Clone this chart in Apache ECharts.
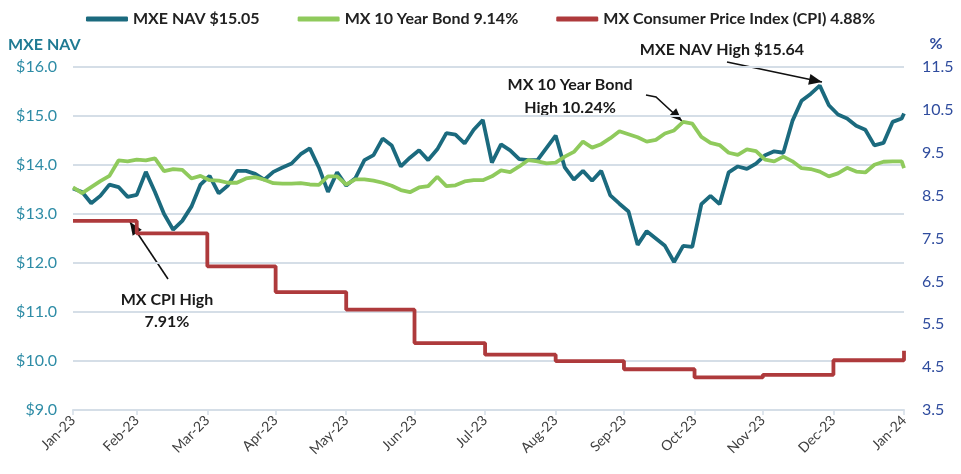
<!DOCTYPE html>
<html>
<head>
<meta charset="utf-8">
<script src="https://cdn.jsdelivr.net/npm/echarts@6/dist/echarts.min.js"></script>
<style>
  html, body { margin: 0; padding: 0; background: #fff; }
  #chart { width: 961px; height: 474px; }
</style>
</head>
<body>
<div id="chart"></div>
<script>
// x-axis tick labels, one per month end
const monthLabels = ['Jan-23', 'Feb-23', 'Mar-23', 'Apr-23', 'May-23', 'Jun-23', 'Jul-23',
  'Aug-23', 'Sep-23', 'Oct-23', 'Nov-23', 'Dec-23', 'Jan-24']

// MX CPI (%), one reading per month end
const cpiValues = [7.91, 7.62, 6.85, 6.25, 5.84, 5.06, 4.79, 4.64, 4.45, 4.26, 4.32, 4.66, 4.88]

// MXE NAV ($), sampled every 4 days from 31 Jan 2023, last point 31 Jan 2024
const navValues = [
  13.52, 13.45, 13.22, 13.37, 13.60, 13.55, 13.35, 13.39, 13.86, 13.45,
  13.00, 12.68, 12.86, 13.15, 13.60, 13.78, 13.42, 13.58, 13.88, 13.88,
  13.82, 13.70, 13.86, 13.95, 14.03, 14.22, 14.34, 13.95, 13.45, 13.85,
  13.58, 13.73, 14.10, 14.20, 14.54, 14.40, 13.97, 14.15, 14.30, 14.10,
  14.32, 14.65, 14.62, 14.44, 14.72, 14.92, 14.05, 14.42, 14.30, 14.12,
  14.10, 14.10, 14.35, 14.60, 13.95, 13.70, 13.88, 13.68, 13.88, 13.38,
  13.21, 13.05, 12.37, 12.65, 12.50, 12.35, 12.02, 12.35, 12.33, 13.20,
  13.37, 13.20, 13.85, 13.97, 13.92, 14.03, 14.20, 14.28, 14.25, 14.90,
  15.31, 15.45, 15.62, 15.22, 15.03, 14.95, 14.80, 14.72, 14.40, 14.45,
  14.88, 14.95, 15.05
]

// MX 10 year bond yield (%), same sampling
const bondValues = [
  8.69, 8.56, 8.70, 8.84, 8.96, 9.32, 9.30, 9.34, 9.32, 9.37,
  9.07, 9.12, 9.10, 8.90, 8.96, 8.86, 8.85, 8.80, 8.80, 8.90,
  8.93, 8.87, 8.79, 8.78, 8.78, 8.79, 8.76, 8.75, 8.95, 8.95,
  8.76, 8.88, 8.88, 8.85, 8.80, 8.73, 8.63, 8.58, 8.69, 8.72,
  8.94, 8.72, 8.74, 8.83, 8.86, 8.86, 8.95, 9.09, 9.05, 9.18,
  9.33, 9.30, 9.25, 9.27, 9.41, 9.52, 9.76, 9.62, 9.70, 9.84,
  10.00, 9.93, 9.86, 9.76, 9.80, 9.95, 10.02, 10.22, 10.18, 9.87,
  9.73, 9.68, 9.50, 9.45, 9.58, 9.54, 9.34, 9.30, 9.41, 9.30,
  9.14, 9.12, 9.06, 8.95, 9.02, 9.15, 9.06, 9.04, 9.22, 9.29,
  9.30, 9.30, 9.14
]

// dates as day offsets from 31 Jan 2023
const DAY = 86400000
const start = +new Date(2023, 0, 31)
const dayOf = d => Math.round((+d - start) / DAY)
const tickDays = monthLabels.map((_, k) => dayOf(new Date(2023, k + 1, 0)))
const sampleDays = navValues.map((_, i) => i === navValues.length - 1 ? tickDays[12] : 4 * i)

const TEAL = '#1B6A7E'
const GREEN = '#8FCA5C'
const RED = '#AE3A3C'
const GRID = '#D5DEE7'
const FONT = 'Lato'

function arrowHead(x1, y1, x2, y2) {
  const a = Math.atan2(y2 - y1, x2 - x1)
  const len = 13, half = 5.5
  const bx = x2 - len * Math.cos(a), by = y2 - len * Math.sin(a)
  return [[x2, y2],
    [bx + half * Math.sin(a), by - half * Math.cos(a)],
    [bx - half * Math.sin(a), by + half * Math.cos(a)]]
}

function arrow(points) {
  const n = points.length
  return [
    { type: 'polyline', shape: { points: points }, style: { stroke: '#111', lineWidth: 1.6, fill: null } },
    { type: 'polygon', shape: { points: arrowHead(points[n - 2][0], points[n - 2][1], points[n - 1][0], points[n - 1][1]) },
      style: { fill: '#111' } }
  ]
}

function label(text, x, y) {
  return {
    type: 'text', x: x, y: y,
    style: { text: text, font: 'bold 16px ' + FONT, fill: '#1a1a1a', textAlign: 'center', textVerticalAlign: 'middle' }
  }
}

const chart = echarts.init(document.getElementById('chart'))
chart.setOption({
  animation: false,
  grid: { left: 73, right: 57, top: 67, bottom: 64 },
  legend: {
    top: 6,
    left: 'center',
    icon: 'roundRect',
    itemWidth: 42,
    itemHeight: 5,
    itemGap: 38,
    textStyle: { fontFamily: FONT, fontSize: 16, fontWeight: 'bold', color: '#222' },
    data: ['MXE NAV $15.05', 'MX 10 Year Bond 9.14%', 'MX Consumer Price Index (CPI) 4.88%']
  },
  xAxis: {
    type: 'value',
    min: 0,
    max: tickDays[12],
    splitLine: { show: false },
    axisLine: { lineStyle: { color: GRID, width: 2 } },
    axisTick: { show: true, customValues: tickDays, length: 5, lineStyle: { color: GRID, width: 1.5 } },
    axisLabel: {
      customValues: tickDays,
      rotate: 45,
      margin: 8,
      fontFamily: FONT,
      fontSize: 14,
      color: '#404040',
      formatter: v => monthLabels[tickDays.indexOf(v)]
    }
  },
  yAxis: [
    {
      type: 'value',
      min: 9,
      max: 16,
      interval: 1,
      axisLine: { show: false },
      axisTick: { show: false },
      splitLine: { lineStyle: { color: GRID, width: 2 } },
      axisLabel: {
        margin: 16,
        fontFamily: FONT,
        fontSize: 16,
        color: '#2E8CA6',
        formatter: v => '$' + v.toFixed(1)
      }
    },
    {
      type: 'value',
      min: 3.5,
      max: 11.5,
      interval: 1,
      axisLine: { show: false },
      axisTick: { show: false },
      splitLine: { show: false },
      axisLabel: {
        margin: 18,
        fontFamily: FONT,
        fontSize: 16,
        color: '#2F4C9E',
        formatter: v => v.toFixed(1)
      }
    }
  ],
  series: [
    {
      name: 'MXE NAV $15.05',
      type: 'line',
      yAxisIndex: 0,
      symbol: 'none',
      color: TEAL,
      lineStyle: { width: 3.8, color: TEAL },
      data: navValues.map((v, i) => [sampleDays[i], v])
    },
    {
      name: 'MX 10 Year Bond 9.14%',
      type: 'line',
      yAxisIndex: 1,
      symbol: 'none',
      color: GREEN,
      lineStyle: { width: 3.8, color: GREEN },
      data: bondValues.map((v, i) => [sampleDays[i], v])
    },
    {
      name: 'MX Consumer Price Index (CPI) 4.88%',
      type: 'line',
      yAxisIndex: 1,
      symbol: 'none',
      step: 'end',
      color: RED,
      lineStyle: { width: 3.8, color: RED },
      data: cpiValues.map((v, k) => [tickDays[k], v])
    }
  ],
  graphic: [
    { type: 'text', x: 8, y: 45, style: { text: 'MXE NAV', font: 'bold 16px ' + FONT, fill: '#1F7A93', textVerticalAlign: 'middle' } },
    { type: 'text', x: 936, y: 44, style: { text: '%', font: 'bold 16px ' + FONT, fill: '#2F4C9E', textAlign: 'center', textVerticalAlign: 'middle' } },
    label('MXE NAV High $15.64', 722, 50),
    label('MX 10 Year Bond', 570, 85),
    label('High 10.24%', 570, 108),
    label('MX CPI High', 167, 300),
    label('7.91%', 167, 322),
    ...arrow([[727, 62], [822, 82]]),
    ...arrow([[646, 95], [656, 97], [682, 121]]),
    ...arrow([[168, 279], [130, 222]])
  ]
})
</script>
</body>
</html>
